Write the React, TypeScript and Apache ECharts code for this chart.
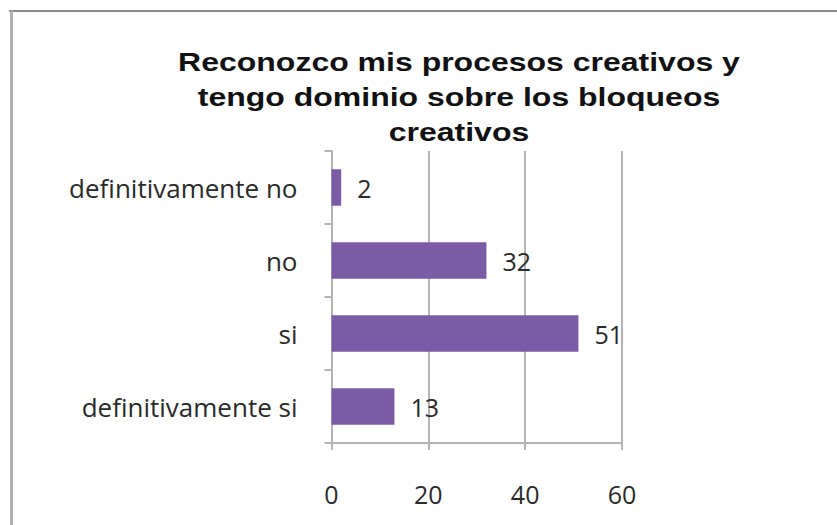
import React, { useEffect, useRef } from "react";
import * as echarts from "echarts";

const categories = ["definitivamente no", "no", "si", "definitivamente si"];
const values = [2, 32, 51, 13];
const xTicks = [0, 20, 40, 60];
const titleLines = [
  "Reconozco mis procesos creativos y",
  "tengo dominio sobre los bloqueos",
  "creativos",
];

export default function App() {
  const ref = useRef<HTMLDivElement>(null);
  useEffect(() => {
    if (!ref.current) return;
    const chart = echarts.init(ref.current, null, { renderer: "svg" });
    const gray = "#b4b4b4";
    const labelFont = "'Open Sans', 'Noto Sans', sans-serif";
    chart.setOption({
      animation: false,
      backgroundColor: "#ffffff",
      graphic: [
        {
          type: "line",
          shape: { x1: 9, y1: 11, x2: 837, y2: 11 },
          style: { stroke: "#8c8c8c", lineWidth: 2 },
          z: 10,
        },
        {
          type: "line",
          shape: { x1: 11.5, y1: 11, x2: 11.5, y2: 525 },
          style: { stroke: "#b0b0b0", lineWidth: 3 },
          z: 10,
        },
        {
          type: "text",
          x: 459,
          y: 45,
          scaleX: 1.28,
          style: {
            text: titleLines.join("\n"),
            align: "center",
            verticalAlign: "top",
            fontFamily: "'Liberation Sans', Arial, sans-serif",
            fontWeight: "bold",
            fontSize: 25,
            lineHeight: 35,
            fill: "#111111",
          },
          z: 10,
        },
      ],
      grid: { left: 331.5, right: 215, top: 151, bottom: 82, containLabel: false },
      xAxis: {
        type: "value",
        min: xTicks[0],
        max: xTicks[xTicks.length - 1],
        interval: xTicks[1] - xTicks[0],
        axisLine: { show: true, lineStyle: { color: gray, width: 2 } },
        axisTick: { show: true, length: 7, lineStyle: { color: gray, width: 2 } },
        splitLine: { show: true, lineStyle: { color: gray, width: 2 } },
        axisLabel: {
          margin: 38,
          fontSize: 25,
          fontFamily: labelFont,
          color: "#2a2a2a",
        },
      },
      yAxis: {
        type: "category",
        data: categories,
        inverse: true,
        axisLine: { show: true, lineStyle: { color: gray, width: 2 } },
        axisTick: { show: true, length: 7, lineStyle: { color: gray, width: 2 } },
        splitLine: { show: false },
        axisLabel: {
          margin: 34,
          fontSize: 26,
          fontFamily: labelFont,
          color: "#2a2a2a",
        },
      },
      series: [
        {
          type: "bar",
          data: values,
          barWidth: "50%",
          itemStyle: { color: "#7b5ba6" },
          label: {
            show: true,
            position: "right",
            distance: 16,
            fontSize: 25,
            fontFamily: labelFont,
            color: "#2a2a2a",
          },
        },
      ],
    });
    return () => chart.dispose();
  }, []);
  return (
    <div
      ref={ref}
      style={{ position: "absolute", left: 0, top: 0, width: 837, height: 525 }}
    />
  );
}
